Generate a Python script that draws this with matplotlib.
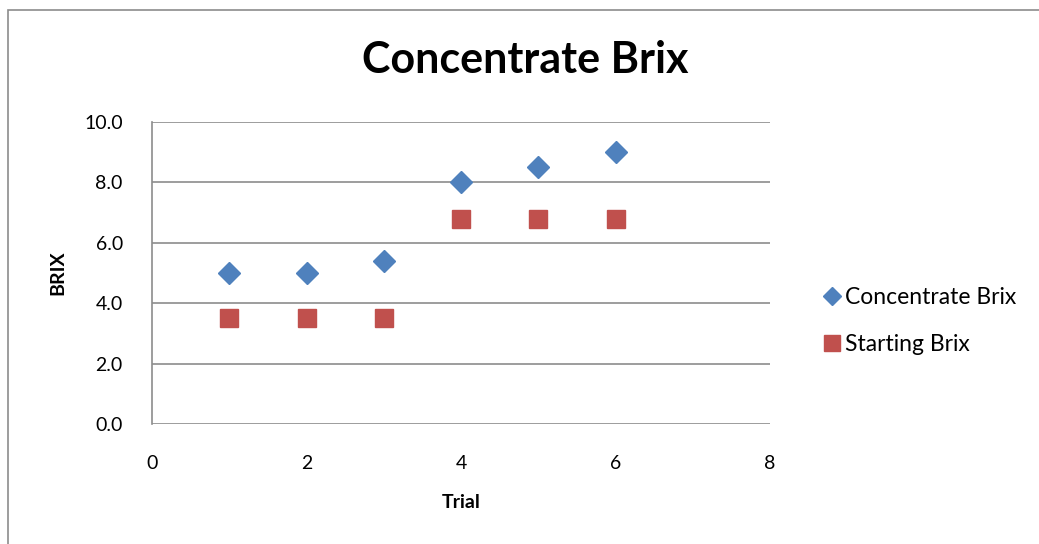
import matplotlib
matplotlib.use("Agg")
import matplotlib.pyplot as plt
from matplotlib.patches import Rectangle
from matplotlib.lines import Line2D

plt.rcParams['font.family'] = ['Lato', 'DejaVu Sans']

trials = [1, 2, 3, 4, 5, 6]
concentrate_brix = [5.0, 5.0, 5.4, 8.0, 8.5, 9.0]
starting_brix = [3.5, 3.5, 3.5, 6.8, 6.8, 6.8]
x_ticks = [0, 2, 4, 6, 8]
y_ticks = [0, 2, 4, 6, 8, 10]
y_tick_labels = ["0.0", "2.0", "4.0", "6.0", "8.0", "10.0"]

W, H = 1039, 544
fig = plt.figure(figsize=(W / 100, H / 100), dpi=100)
fig.patch.set_facecolor('white')

# outer chart border
fig.add_artist(Rectangle((8 / W, -0.1), 1.2, (H - 10) / H + 0.1, transform=fig.transFigure,
                         fill=False, edgecolor='#8c8c8c', linewidth=1.2))

ax = fig.add_axes([152 / W, (H - 424) / H, (770 - 152) / W, (424 - 122) / H])
ax.set_xlim(0, 8)
ax.set_ylim(0, 10)
ax.set_xticks(x_ticks)
ax.set_yticks(y_ticks)
ax.set_yticklabels(y_tick_labels)
ax.tick_params(axis='both', length=0, labelsize=14, colors='black')
ax.tick_params(axis='y', pad=21)
ax.tick_params(axis='x', pad=22)
ax.grid(axis='y', color='#8c8c8c', linewidth=1.2)
ax.set_axisbelow(True)
for s in ['top', 'right', 'bottom']:
    ax.spines[s].set_visible(False)
ax.spines['left'].set_color('#8c8c8c')
ax.spines['left'].set_linewidth(1.2)

ax.plot(trials, concentrate_brix, linestyle='none', marker='D', markersize=11,
        color='#4F81BD', markeredgecolor='#4F81BD', label='Concentrate Brix', clip_on=False)
ax.plot(trials, starting_brix, linestyle='none', marker='s', markersize=13,
        color='#C0504D', markeredgecolor='#C0504D', label='Starting Brix', clip_on=False)

ax.set_xlabel('Trial', fontsize=14, fontweight='bold', labelpad=16)
ax.set_ylabel('BRIX', fontsize=14, fontweight='bold', labelpad=13)
fig.text(525 / W, (H - 60) / H, 'Concentrate Brix', ha='center', va='center',
         fontsize=31, fontweight='bold')

handles = [Line2D([], [], linestyle='none', marker='D', markersize=9, color='#4F81BD'),
           Line2D([], [], linestyle='none', marker='s', markersize=12, color='#C0504D')]
fig.legend(handles, ['Concentrate Brix', 'Starting Brix'], loc='center left',
           bbox_to_anchor=(803 / W, (H - 321) / H), frameon=False, fontsize=16.5,
           handlelength=0.75, handletextpad=0.2, labelspacing=1.15)

fig.savefig('out.png', dpi=100)
